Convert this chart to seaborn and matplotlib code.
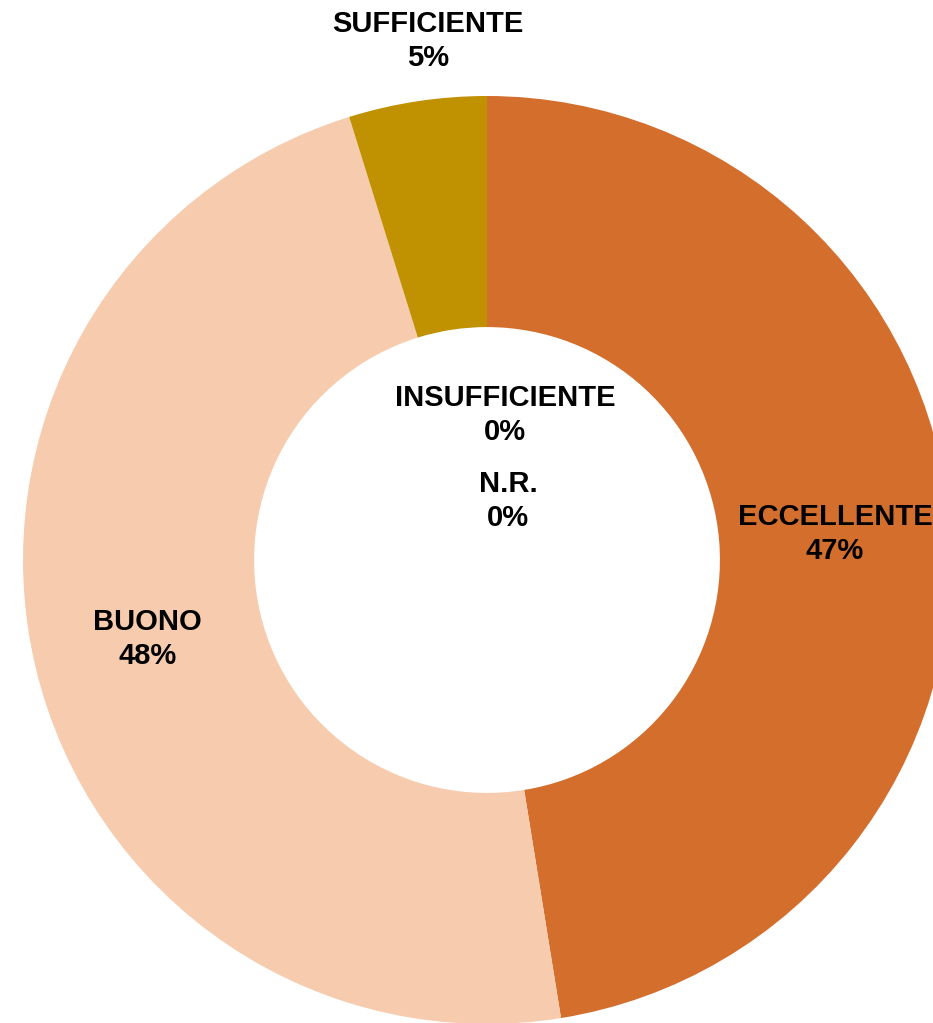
import matplotlib
matplotlib.use("Agg")
import matplotlib.pyplot as plt
import seaborn as sns

categorie = ["ECCELLENTE", "BUONO", "SUFFICIENTE", "INSUFFICIENTE", "N.R."]
percentuali = [47.45, 47.75, 4.8, 0.0, 0.0]
colori = ["#D36E2C", "#F7CBAE", "#C09100", "#8C8C8C", "#5B5B5B"]

# posizioni delle etichette (coordinate dati, raggio esterno = 1)
pos_etichette = [(0.75, 0.056), (-0.731, -0.170), (-0.127, 1.119), (0.039, 0.3125), (0.045, 0.127)]

sns.set_theme(style="white")
plt.rcParams['font.family'] = ['Liberation Sans', 'DejaVu Sans']

W, H = 933, 1023
fig = plt.figure(figsize=(W / 100, H / 100), dpi=100)
cx, cy, r = 487, 560, 464
ax = fig.add_axes([(cx - r) / W, (H - cy - r) / H, 2 * r / W, 2 * r / H])

ax.pie(percentuali, colors=colori, startangle=90, counterclock=False,
       radius=1, wedgeprops=dict(width=0.498, linewidth=0, edgecolor="none"))
ax.set_xlim(-1, 1)
ax.set_ylim(-1, 1)
ax.set_aspect("equal")
ax.axis("off")

for nome, val, (x, y) in zip(categorie, percentuali, pos_etichette):
    ax.text(x, y, f"{nome}\n{round(val)}%", ha="center", va="center",
            fontsize=21, fontweight="bold", color="black", linespacing=1.25)

fig.savefig("out.png", dpi=100, facecolor="white")
